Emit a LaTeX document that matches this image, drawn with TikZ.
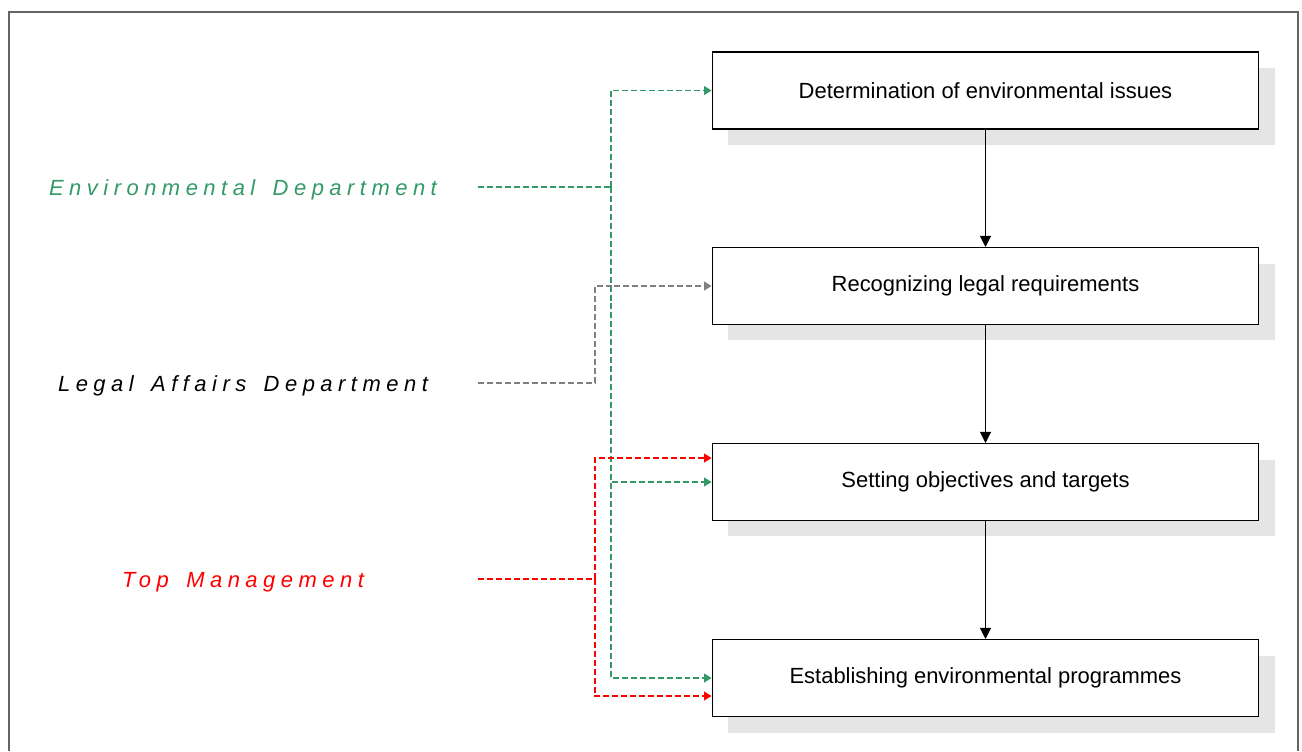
\documentclass[tikz,border=0pt]{standalone}
\usepackage{fontspec}
\setmainfont{Liberation Sans}
\newfontfamily\spacedfont[LetterSpace=25, WordSpace=1.5]{Liberation Sans}
\usepackage{tikz}
\usetikzlibrary{arrows.meta,positioning,shadows}
\definecolor{envgreen}{RGB}{51,153,102}
\definecolor{linegray}{RGB}{128,128,128}
\definecolor{framegray}{RGB}{100,100,100}

\begin{document}
\begin{tikzpicture}[x=0.02cm, y=-0.02cm,
  stage/.style={draw, fill=white, line width=0.6pt, minimum width=10.94cm,
              minimum height=1.54cm, inner sep=0pt,
              font=\fontsize{12.5}{15}\selectfont,
              drop shadow={shadow xshift=0.32cm, shadow yshift=-0.32cm,
                           fill=black!10, opacity=1}},
  dept/.style={minimum width=9.4cm, inner sep=0pt,
              text height=12.4pt, text depth=2.6pt,
              font=\spacedfont\itshape\fontsize{12.5}{15}\selectfont},
  flow/.style={-{Triangle[length=2.2mm, width=2.2mm]}, line width=0.6pt},
  link/.style={-{Triangle[length=1.5mm, width=1.8mm]}, line width=0.6pt,
              dash pattern=on 3.4pt off 1.7pt},
]
\useasboundingbox (0,0) rectangle (1302,751);
% frame, cut off at the bottom
\draw[framegray, line width=0.6pt] (9,751) -- (9,12) -- (1298,12) -- (1298,751);

% process steps
\node[stage] (s1) at (985.5,90.5) {Determination of environmental issues};
\node[stage] (s2) at (985.5,286) {Recognizing legal requirements};
\node[stage] (s3) at (985.5,482) {Setting objectives and targets};
\node[stage] (s4) at (985.5,678) {Establishing environmental programmes};

% departments
\node[dept, text=envgreen] (env) at (243,187) {Environmental Department};
\node[dept] (legal) at (243,383) {Legal Affairs Department};
\node[dept, text=red] (top) at (243,579) {Top Management};

\coordinate (gj) at (611,187);
\coordinate (lj) at (595,383);
\coordinate (tj) at (595,579);

\draw[flow] (s1) -- (s2);
\draw[flow] (s2) -- (s3);
\draw[flow] (s3) -- (s4);

\draw[link, -, envgreen] (env.east) -- (gj);
\draw[link, envgreen] (gj) |- (s1.west);
\draw[link, envgreen] (gj) |- (s3.west);
\draw[link, envgreen] (gj) |- (s4.west);

\draw[link, -, linegray] (legal.east) -- (lj);
\draw[link, linegray] (lj) |- (s2.west);

\draw[link, -, red] (top.east) -- (tj);
\draw[link, red] (tj) |- ([yshift=0.48cm]s3.west);
\draw[link, red] (tj) |- ([yshift=-0.36cm]s4.west);
\end{tikzpicture}
\end{document}
